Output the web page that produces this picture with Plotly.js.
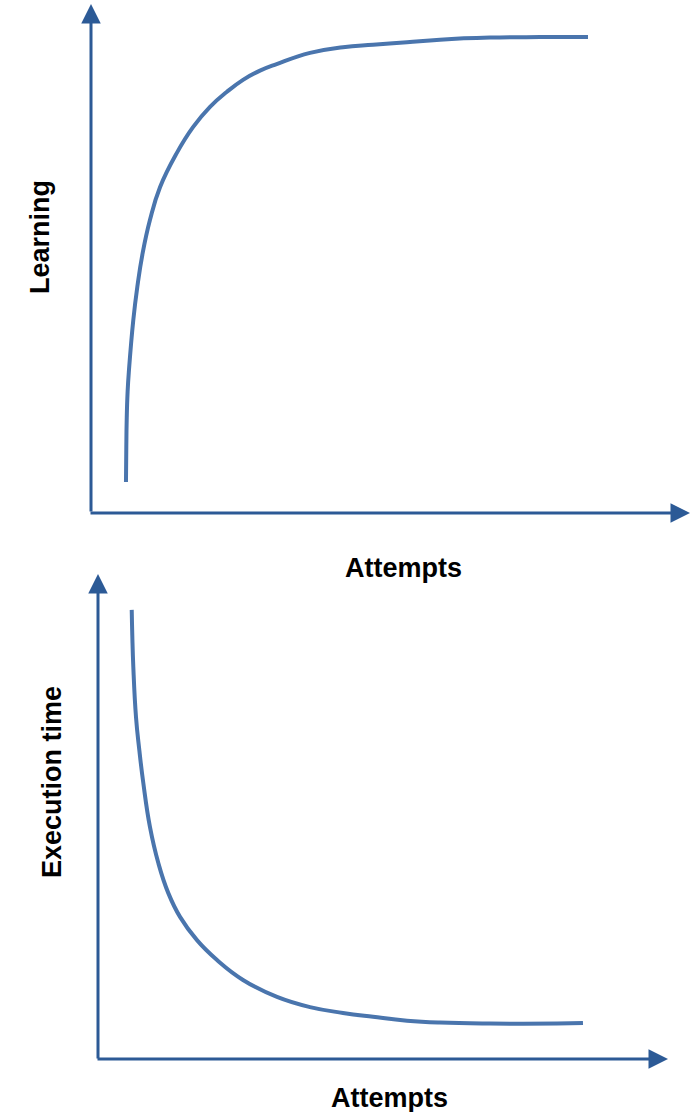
<!DOCTYPE html>
<html>
<head>
<meta charset="utf-8">
<script src="https://cdn.plot.ly/plotly-3.0.1.min.js"></script>
<style>html,body{margin:0;padding:0;background:#fff;}#chart{width:700px;height:1112px;}</style>
</head>
<body>
<div id="chart"></div>
<script>
// Top panel: learning curve (x: attempts, y: learning), 0-100 scales
var learnAttempts = [5.84, 5.89, 5.96, 6.11, 6.34, 7.06, 7.73, 8.63, 9.85, 11.52, 14.31, 17.03, 19.87, 22.65, 25.38, 28.21, 31.0, 36.56, 42.07, 47.08, 52.75, 58.26, 66.61, 74.96, 82.97];
var learning      = [6.1, 12.4, 18.3, 23.8, 28.1, 37.9, 44.4, 51.1, 57.6, 64.0, 70.7, 75.8, 79.8, 82.7, 85.1, 86.9, 88.2, 90.4, 91.5, 92.0, 92.5, 93.0, 93.4, 93.5, 93.5];

// Bottom panel: execution time curve
var execAttempts  = [6.08, 6.18, 6.36, 6.83, 7.41, 8.11, 9.28, 10.74, 12.49, 14.54, 17.51, 21.02, 25.57, 31.52, 37.30, 43.08, 48.34, 54.29, 60.07, 68.83, 80.56, 85.11];
var execTime      = [92.6, 87.4, 80.8, 70.5, 63.7, 56.9, 47.8, 40.4, 34.2, 29.3, 24.5, 20.4, 16.3, 12.8, 10.7, 9.5, 8.7, 7.9, 7.5, 7.3, 7.3, 7.4];

var xLabel = "Attempts";
var yLabelTop = "Learning";
var yLabelBottom = "Execution time";

var W = 700, H = 1112;
function px(x){ return x / W; }
function py(y){ return 1 - y / H; }

var axisColor = "#2C5A96";
var curveColor = "#4A75AD";
var font = {family: "Liberation Sans, Arial, sans-serif", size: 27, color: "#000"};

var traces = [
  {x: learnAttempts, y: learning, xaxis: "x", yaxis: "y", mode: "lines",
   line: {color: curveColor, width: 4, shape: "spline", smoothing: 1.3}, hoverinfo: "skip"},
  {x: execAttempts, y: execTime, xaxis: "x2", yaxis: "y2", mode: "lines",
   line: {color: curveColor, width: 4, shape: "spline", smoothing: 1.3}, hoverinfo: "skip"}
];

function hidden(domain, anchor){
  return {domain: domain, range: [0, 100], visible: false, fixedrange: true, anchor: anchor};
}

function arrow(xTip, yTip, ax, ay){
  return {xref: "paper", yref: "paper", x: px(xTip), y: py(yTip), ax: ax, ay: ay,
          text: "", showarrow: true, arrowhead: 2, arrowsize: 1.3, arrowwidth: 3,
          arrowcolor: axisColor, standoff: 0, startstandoff: 0};
}

var layout = {
  width: W, height: H,
  margin: {l: 0, r: 0, t: 0, b: 0},
  paper_bgcolor: "#fff", plot_bgcolor: "rgba(0,0,0,0)",
  showlegend: false,
  xaxis: hidden([px(91), px(690)], "y"),
  yaxis: hidden([py(513), py(4)], "x"),
  xaxis2: hidden([px(97), px(668)], "y2"),
  yaxis2: hidden([py(1059), py(574)], "x2"),
  annotations: [
    arrow(91, 4, 0, 509),
    arrow(690, 513, -601, 0),
    arrow(98, 574, 0, 486),
    arrow(668, 1059, -572, 0),
    {xref: "paper", yref: "paper", x: px(403), y: py(568), text: "<b>" + xLabel + "</b>",
     showarrow: false, font: font, xanchor: "center", yanchor: "middle"},
    {xref: "paper", yref: "paper", x: px(40), y: py(237), text: "<b>" + yLabelTop + "</b>",
     showarrow: false, font: font, textangle: -90, xanchor: "center", yanchor: "middle"},
    {xref: "paper", yref: "paper", x: px(389), y: py(1098), text: "<b>" + xLabel + "</b>",
     showarrow: false, font: font, xanchor: "center", yanchor: "middle"},
    {xref: "paper", yref: "paper", x: px(52), y: py(782), text: "<b>" + yLabelBottom + "</b>",
     showarrow: false, font: font, textangle: -90, xanchor: "center", yanchor: "middle"}
  ]
};

Plotly.newPlot("chart", traces, layout, {displayModeBar: false, staticPlot: true});
</script>
</body>
</html>
